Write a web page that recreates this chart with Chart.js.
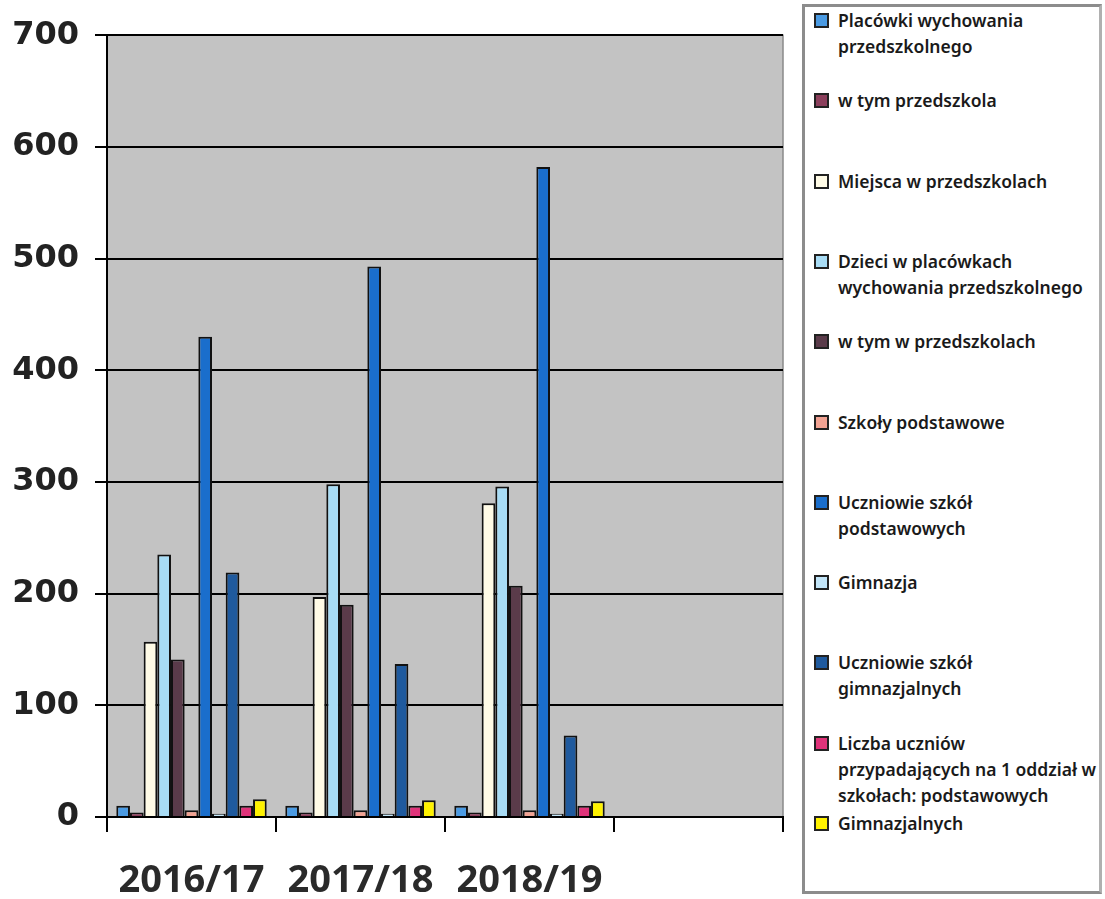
<!DOCTYPE html>
<html>
<head>
<meta charset="utf-8">
<script src="https://cdn.jsdelivr.net/npm/chart.js@4"></script>
<style>
  body { margin: 0; background: #fff; }
  #wrap { position: absolute; left: 0; top: 0; width: 800px; height: 899px; }
  #legend {
    position: absolute; left: 802px; top: 4px; width: 294px; height: 884px;
    border: 3px solid #8c8c8c; border-right-color: #b0b0b0;
    font-family: "Noto Sans", sans-serif; font-weight: 600; font-size: 17.5px;
    color: #1a1a1a;
  }
  .item { position: absolute; left: 9px; line-height: 26px; white-space: pre; padding-left: 24px; }
  .item i {
    position: absolute; left: 0; top: 6px; width: 11px; height: 11px;
    border: 2px solid #222;
  }
</style>
</head>
<body>
<div id="wrap"><canvas id="chart"></canvas></div>
<div id="legend"></div>
<script>
// categories (4th slot is empty in the original)
const years = ['2016/17', '2017/18', '2018/19', ''];

const seriesNames = [
    'Placówki wychowania\nprzedszkolnego',
    'w tym przedszkola',
    'Miejsca w przedszkolach',
    'Dzieci w placówkach\nwychowania przedszkolnego',
    'w tym w przedszkolach',
    'Szkoły podstawowe',
    'Uczniowie szkół\npodstawowych',
    'Gimnazja',
    'Uczniowie szkół\ngimnazjalnych',
    'Liczba uczniów\nprzypadających na 1 oddział w\nszkołach: podstawowych',
    'Gimnazjalnych'
];

const placowki      = [10, 10, 10];
const przedszkola   = [4, 4, 4];
const miejsca       = [157, 197, 281];
const dzieci        = [235, 298, 296];
const wTymDzieci    = [141, 190, 207];
const szkolyPodst   = [6, 6, 6];
const uczniowiePodst = [430, 493, 582];
const gimnazja      = [3, 3, 3];
const uczniowieGimn = [219, 137, 73];
const liczbaPodst   = [10, 10, 10];
const liczbaGimn    = [16, 15, 14];

const yTicks = [0, 100, 200, 300, 400, 500, 600, 700];

const seriesValues = [placowki, przedszkola, miejsca, dzieci, wTymDzieci, szkolyPodst,
    uczniowiePodst, gimnazja, uczniowieGimn, liczbaPodst, liczbaGimn];

const colors = ['#4b9be3', '#8b3f5c', '#fffbe6', '#a8dcf5', '#5a3b4a', '#f2a393',
    '#1a6ecc', '#c2e5f8', '#1f5a9e', '#e0337a', '#fff200'];

const plotBg = {
    id: 'plotBg',
    beforeDraw(chart) {
        const { ctx, chartArea: a } = chart;
        ctx.save();
        ctx.fillStyle = '#c3c3c3';
        ctx.fillRect(a.left, a.top, a.right - a.left, a.bottom - a.top);
        ctx.strokeStyle = '#8a8a8a';
        ctx.lineWidth = 1.5;
        ctx.strokeRect(a.left, a.top, a.right - a.left, a.bottom - a.top);
        ctx.restore();
    }
};

const chart = new Chart(document.getElementById('chart'), {
    type: 'bar',
    data: {
        labels: years,
        datasets: seriesNames.map((name, i) => ({
            label: name,
            data: seriesValues[i],
            backgroundColor: colors[i],
            borderColor: '#111',
            borderWidth: 2,
            categoryPercentage: 0.89,
            barPercentage: 1.0
        }))
    },
    options: {
        responsive: true,
        maintainAspectRatio: false,
        animation: false,
        layout: { padding: { top: 33, right: 17, left: 0, bottom: 0 } },
        plugins: { legend: { display: false }, tooltip: { enabled: false } },
        scales: {
            y: {
                min: 0,
                max: 700,
                afterBuildTicks: s => { s.ticks = yTicks.map(v => ({ value: v })); },
                afterFit: s => { s.width = 107; },
                ticks: {
                    padding: 16,
                    color: '#222',
                    font: { family: 'DejaVu Sans', weight: 'bold', size: 32 }
                },
                grid: { color: '#000', lineWidth: 2, tickLength: 12 },
                border: { color: '#000', width: 2 }
            },
            x: {
                afterFit: s => { s.height = 82; },
                ticks: {
                    padding: 26,
                    color: '#2a2a2a',
                    font: { family: 'Noto Sans', weight: 'bold', size: 38 }
                },
                grid: { offset: true, drawOnChartArea: false, color: '#000', lineWidth: 2, tickLength: 15 },
                border: { color: '#000', width: 2 }
            }
        }
    },
    plugins: [plotBg]
});

// legend, built from the chart's datasets
const legend = document.getElementById('legend');
chart.data.datasets.forEach((ds, i) => {
    const div = document.createElement('div');
    div.className = 'item';
    div.style.top = (0 + i * 80.3) + 'px';
    const box = document.createElement('i');
    box.style.background = ds.backgroundColor;
    div.appendChild(box);
    div.appendChild(document.createTextNode(ds.label));
    legend.appendChild(div);
});
</script>
</body>
</html>
